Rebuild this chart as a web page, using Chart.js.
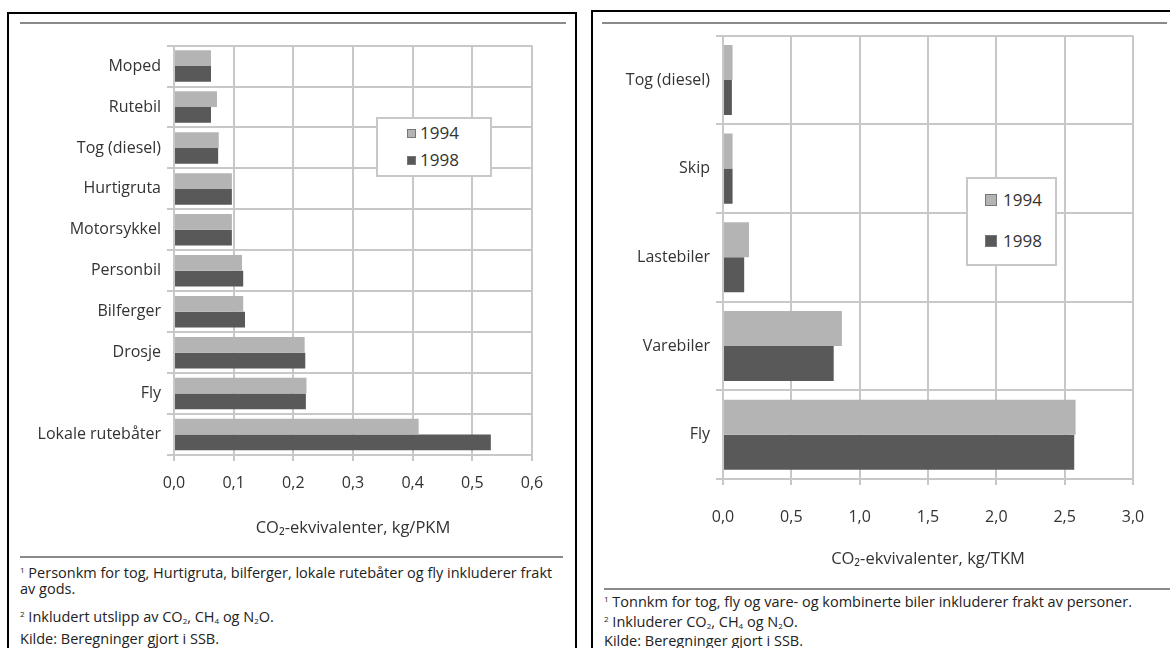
<!DOCTYPE html>
<html>
<head>
<meta charset="utf-8">
<script src="https://cdn.jsdelivr.net/npm/chart.js@4/dist/chart.umd.min.js"></script>
<style>
  body { margin: 0; background: #fff; font-family: "Open Sans", sans-serif; color: #222; }
  #page { position: relative; width: 1170px; height: 648px; overflow: hidden; }
  .panel { position: absolute; border: 2px solid #000; border-bottom: none; }
  .rule { position: absolute; height: 2px; background: #8a8a8a; }
  .box { position: absolute; }
  .legend { position: absolute; background: #fff; border: 2px solid #c8c8c8; box-sizing: border-box; }
  .legend .item { position: absolute; font-size: 17px; line-height: 20px; color: #333; }
  .legend .sw { position: absolute; box-sizing: border-box; border: 1px solid #777; }
  .notes { position: absolute; font-size: 14.5px; color: #222; line-height: 16px; white-space: nowrap; }
  .notes p { margin: 0; }
  .notes sup { font-size: 8px; line-height: 0; vertical-align: 5px; }
  .notes sub { font-size: 8px; line-height: 0; vertical-align: -2px; }
</style>
</head>
<body>
<div id="page">
  <div class="panel" style="left:7px; top:12px; width:566px; height:660px;"></div>
  <div class="panel" style="left:591px; top:10px; width:600px; height:660px; border-right:none;"></div>

  <div class="rule" style="left:20px; top:22px; width:546px;"></div>
  <div class="rule" style="left:20px; top:556px; width:543px;"></div>
  <div class="rule" style="left:602px; top:22px; width:565px;"></div>
  <div class="rule" style="left:604px; top:588px; width:566px;"></div>

  <div class="box" style="left:10px; top:30px; width:560px; height:520px;"><canvas id="leftChart" width="560" height="520"></canvas></div>
  <div class="box" style="left:600px; top:20px; width:570px; height:560px;"><canvas id="rightChart" width="570" height="560"></canvas></div>

  <div class="legend" id="leftLegend" style="left:376px; top:117px; width:116px; height:60px;"></div>
  <div class="legend" id="rightLegend" style="left:966px; top:177px; width:91px; height:89px;"></div>

  <div class="notes" style="left:20px; top:565px;">
    <p><sup>1</sup> Personkm for tog, Hurtigruta, bilferger, lokale rutebåter og fly inkluderer frakt</p>
    <p>av gods.</p>
    <p style="margin-top:12px;"><sup>2</sup> Inkludert utslipp av CO<sub>2</sub>, CH<sub>4</sub> og N<sub>2</sub>O.</p>
    <p style="margin-top:6px;">Kilde: Beregninger gjort i SSB.</p>
  </div>
  <div class="notes" style="left:604px; top:592px; line-height:19.5px;">
    <p><sup>1</sup> Tonnkm for tog, fly og vare- og kombinerte biler inkluderer frakt av personer.</p>
    <p><sup>2</sup> Inkluderer CO<sub>2</sub>, CH<sub>4</sub> og N<sub>2</sub>O.</p>
    <p>Kilde: Beregninger gjort i SSB.</p>
  </div>
</div>

<script>
// Data
let seriesNames = ['1994', '1998'];
let seriesColors = ['#b4b4b4', '#595959'];

let leftCategories = ['Moped', 'Rutebil', 'Tog (diesel)', 'Hurtigruta', 'Motorsykkel',
  'Personbil', 'Bilferger', 'Drosje', 'Fly', 'Lokale rutebåter'];
let left1994 = [0.062, 0.072, 0.075, 0.097, 0.097, 0.114, 0.116, 0.219, 0.222, 0.410];
let left1998 = [0.062, 0.062, 0.074, 0.097, 0.097, 0.116, 0.119, 0.220, 0.221, 0.531];
let leftTitle = 'CO₂-ekvivalenter, kg/PKM';

let rightCategories = ['Tog (diesel)', 'Skip', 'Lastebiler', 'Varebiler', 'Fly'];
let right1994 = [0.070, 0.070, 0.190, 0.870, 2.580];
let right1998 = [0.065, 0.070, 0.155, 0.810, 2.570];
let rightTitle = 'CO₂-ekvivalenter, kg/TKM';

let gridColor = '#c8c8c8';
let textColor = '#333';

function commaTick(value) {
    return Number(value).toFixed(1).replace('.', ',');
}

function makeChart(canvasId, categories, values, cfg) {
    let ctx = document.getElementById(canvasId).getContext('2d');
    return new Chart(ctx, {
        type: 'bar',
        data: {
            labels: categories,
            datasets: values.map((vals, i) => ({
                label: seriesNames[i],
                data: vals,
                backgroundColor: seriesColors[i],
                borderWidth: 0,
                categoryPercentage: cfg.catPct,
                barPercentage: 1.0
            }))
        },
        options: {
            indexAxis: 'y',
            responsive: false,
            animation: false,
            layout: { padding: { left: 0, right: cfg.padRight, top: cfg.padTop, bottom: 0 } },
            plugins: { legend: { display: false }, tooltip: { enabled: false } },
            scales: {
                x: {
                    min: 0,
                    max: cfg.max,
                    ticks: {
                        stepSize: cfg.step,
                        color: textColor,
                        padding: cfg.tickPad,
                        font: { family: 'Open Sans', size: 16 },
                        callback: commaTick
                    },
                    grid: { color: gridColor, lineWidth: 2, tickLength: 6 },
                    border: { color: gridColor, width: 2 },
                    title: {
                        display: true,
                        text: cfg.title,
                        color: textColor,
                        font: { family: 'Open Sans', size: 16.5 },
                        padding: { top: 0, bottom: cfg.titlePad }
                    },
                    afterFit: function(scale) { scale.height = cfg.xHeight; }
                },
                y: {
                    ticks: {
                        color: textColor,
                        padding: 6,
                        font: { family: 'Open Sans', size: 16 }
                    },
                    grid: { color: gridColor, lineWidth: 2, tickLength: 7, offset: true },
                    border: { color: gridColor, width: 2 },
                    afterFit: function(scale) { scale.width = cfg.yWidth; }
                }
            }
        }
    });
}

function buildLegend(id, sw, rows, textLeft, swLeft) {
    let box = document.getElementById(id);
    seriesNames.forEach((name, i) => {
        let s = document.createElement('div');
        s.className = 'sw';
        s.style.left = swLeft + 'px';
        s.style.top = (rows[i] - sw / 2) + 'px';
        s.style.width = sw + 'px';
        s.style.height = sw + 'px';
        s.style.background = seriesColors[i];
        box.appendChild(s);
        let t = document.createElement('div');
        t.className = 'item';
        t.style.left = textLeft + 'px';
        t.style.top = (rows[i] - 10) + 'px';
        t.textContent = name;
        box.appendChild(t);
    });
}

makeChart('leftChart', leftCategories, [left1994, left1998], {
    catPct: 0.77, padRight: 38, padTop: 7, max: 0.6, step: 0.1,
    tickPad: 13, title: leftTitle, titlePad: 12, xHeight: 95, yWidth: 164
});

makeChart('rightChart', rightCategories, [right1994, right1998], {
    catPct: 0.79, padRight: 37, padTop: 15, max: 3.0, step: 0.5,
    tickPad: 23, title: rightTitle, titlePad: 11, xHeight: 101, yWidth: 123
});

buildLegend('leftLegend', 9, [14, 41], 42, 29);
buildLegend('rightLegend', 12, [21, 62], 35, 17);
</script>
</body>
</html>
